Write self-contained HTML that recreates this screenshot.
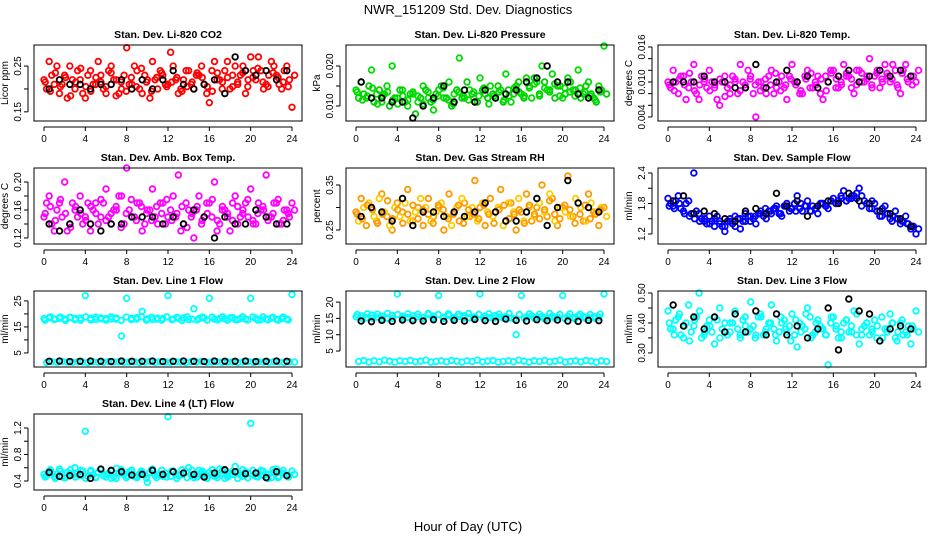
<!DOCTYPE html>
<html><head><meta charset="utf-8"><style>
body{margin:0;background:#fff;}
svg{display:block;font-family:"Liberation Sans",sans-serif;}
</style></head><body>
<svg id="chart" width="936" height="540" viewBox="0 0 936 540">
<text x="468" y="14" text-anchor="middle" font-size="13">NWR_151209  Std. Dev. Diagnostics</text>
<text x="468" y="531" text-anchor="middle" font-size="13">Hour of Day (UTC)</text>
</svg>
<script>
const xTicks = [0,4,8,12,16,20,24];
const panelTitles = ["Stan. Dev. Li-820 CO2","Stan. Dev. Li-820 Pressure","Stan. Dev. Li-820 Temp.","Stan. Dev. Amb. Box Temp.","Stan. Dev. Gas Stream RH","Stan. Dev. Sample Flow","Stan. Dev. Line 1 Flow","Stan. Dev. Line 2 Flow","Stan. Dev. Line 3 Flow","Stan. Dev. Line 4 (LT) Flow"];
const yUnits = ["Licor ppm","kPa","degrees C","degrees C","percent","ml/min","ml/min","ml/min","ml/min","ml/min"];
const yRanges = [[0.130,0.296],[0.00625,0.02525],[0.00331,0.01634],[0.1114,0.22],[0.2189,0.3878],[1.003,2.498],[-0.4,28.8],[0.1,23.4],[0.253,0.5067],[0.264,1.411]];
const yTicks = [[0.15,0.20,0.25],[0.010,0.015,0.020],[0.004,0.006,0.008,0.010,0.012,0.014,0.016],[0.12,0.14,0.16,0.18,0.20],[0.25,0.30,0.35],[1.2,1.5,1.8,2.1,2.4],[5,10,15,20,25],[5,10,15,20],[0.30,0.35,0.40,0.45,0.50],[0.4,0.6,0.8,1.0,1.2]];
const yTickLabels = [["0.15","","0.25"],["0.010","","0.020"],["0.004","","","0.010","","","0.016"],["0.12","","0.16","","0.20"],["0.25","","0.35"],["1.2","","1.8","","2.4"],["5","","15","","25"],["5","10","15","20"],["0.30","","0.40","","0.50"],["0.4","","0.8","","1.2"]];
const colors = ["#ff0000","#00dd00","#ff00ff","#ff00ff","#ff9900","#0000ff","#00ffff","#00ffff","#00ffff","#00ffff"];
const colors2 = ["#ff0000","#00cc00","#ff00ff","#ff00ff","#ffcc00","#0000ee","#00ffff","#00ffff","#00ffff","#00ffff"];

const seriesA = [
[0.22,0.26,0.21,0.19,0.23,0.25,0.20,0.22,0.18,0.24,0.21,0.23,0.19,0.25,0.22,0.20,0.29,0.21,0.24,0.19,0.22,0.26,0.20,0.23,0.21,0.25,0.19,0.22,0.24,0.20,0.23,0.21,0.17,0.26,0.22,0.24,0.20,0.25,0.23,0.19,0.27,0.22,0.24,0.21,0.26,0.23,0.20,0.25,0.16],
[0.014,0.016,0.012,0.019,0.013,0.011,0.015,0.020,0.012,0.014,0.010,0.013,0.011,0.015,0.012,0.009,0.014,0.012,0.016,0.013,0.022,0.012,0.014,0.011,0.017,0.013,0.015,0.012,0.014,0.018,0.011,0.015,0.013,0.017,0.012,0.016,0.020,0.014,0.018,0.015,0.012,0.017,0.014,0.019,0.013,0.016,0.012,0.015,0.025],
[0.010,0.012,0.008,0.011,0.009,0.013,0.007,0.010,0.012,0.009,0.006,0.011,0.008,0.010,0.013,0.009,0.011,0.004,0.010,0.008,0.012,0.009,0.011,0.007,0.013,0.010,0.008,0.012,0.009,0.011,0.007,0.010,0.012,0.009,0.013,0.011,0.008,0.012,0.010,0.014,0.011,0.009,0.013,0.010,0.012,0.008,0.013,0.011,0.010],
[0.15,0.18,0.13,0.17,0.20,0.14,0.16,0.18,0.15,0.13,0.17,0.15,0.19,0.14,0.16,0.18,0.22,0.15,0.17,0.13,0.16,0.19,0.14,0.17,0.15,0.18,0.21,0.14,0.16,0.12,0.18,0.15,0.17,0.20,0.14,0.16,0.13,0.18,0.15,0.17,0.19,0.14,0.16,0.21,0.15,0.17,0.14,0.16,0.17],
[0.29,0.32,0.26,0.30,0.27,0.33,0.28,0.25,0.31,0.29,0.34,0.27,0.30,0.26,0.32,0.28,0.30,0.25,0.33,0.29,0.27,0.31,0.28,0.36,0.30,0.26,0.32,0.29,0.34,0.27,0.31,0.25,0.29,0.33,0.27,0.30,0.35,0.28,0.32,0.26,0.30,0.37,0.28,0.31,0.27,0.33,0.29,0.26,0.30],
[1.90,1.75,1.95,1.65,1.85,2.40,1.60,1.45,1.55,1.35,1.40,1.25,1.50,1.35,1.30,1.45,1.55,1.40,1.65,1.50,1.60,1.75,1.55,1.80,1.70,1.95,1.65,1.85,1.75,1.60,1.80,1.70,1.90,1.85,2.05,1.90,1.95,2.10,1.85,1.70,1.80,1.55,1.75,1.50,1.65,1.40,1.55,1.30,1.20],
[18.2,18.5,17.9,18.3,18.0,18.6,17.8,18.4,27.0,18.3,17.9,18.5,18.2,18.0,18.4,11.5,26.0,18.3,18.6,21.0,18.1,17.9,18.4,18.2,27.0,18.0,18.3,18.5,17.8,22.0,18.2,18.4,26.0,18.0,18.3,18.1,18.5,17.9,18.2,18.0,26.0,18.3,17.8,18.1,18.4,17.9,18.2,18.0,27.5],
[15.5,15.8,15.2,16.0,15.4,15.7,15.1,15.9,22.5,15.6,15.3,15.8,15.5,15.2,16.2,15.7,22.0,15.4,15.9,15.3,15.6,15.8,15.2,15.5,22.5,15.7,15.3,15.9,15.4,15.6,15.1,10.0,22.0,15.5,15.8,15.3,15.6,15.2,15.7,15.4,22.0,15.6,15.3,15.8,15.5,15.2,15.6,15.4,22.5],
[0.44,0.38,0.42,0.35,0.46,0.39,0.50,0.36,0.41,0.33,0.45,0.37,0.40,0.43,0.35,0.39,0.47,0.36,0.42,0.38,0.46,0.34,0.40,0.37,0.43,0.32,0.39,0.45,0.36,0.41,0.38,0.26,0.42,0.35,0.40,0.37,0.44,0.33,0.39,0.36,0.41,0.34,0.38,0.43,0.35,0.40,0.37,0.33,0.44],
[0.50,0.55,0.47,0.58,0.45,0.52,0.60,0.48,1.15,0.54,0.46,0.57,0.50,0.44,0.59,0.52,0.48,0.56,0.45,0.53,0.38,0.58,0.50,0.47,1.37,0.55,0.48,0.52,0.60,0.45,0.56,0.50,0.53,0.47,0.58,0.44,0.51,0.62,0.49,0.54,1.27,0.47,0.56,0.50,0.45,0.58,0.52,0.48,0.55]
];
const seriesB = [
[0.20,0.23,0.25,0.21,0.18,0.22,0.24,0.19,0.23,0.21,0.26,0.20,0.24,0.22,0.19,0.23,0.21,0.25,0.20,0.23,0.18,0.22,0.24,0.21,0.28,0.22,0.20,0.24,0.21,0.23,0.25,0.19,0.24,0.22,0.20,0.26,0.23,0.21,0.25,0.22,0.24,0.27,0.20,0.23,0.25,0.21,0.24,0.22,0.23],
[0.012,0.013,0.015,0.011,0.014,0.013,0.010,0.012,0.014,0.011,0.013,0.008,0.012,0.014,0.011,0.013,0.015,0.012,0.010,0.014,0.012,0.016,0.013,0.011,0.014,0.012,0.013,0.015,0.011,0.014,0.013,0.016,0.012,0.015,0.017,0.013,0.016,0.014,0.012,0.015,0.013,0.016,0.014,0.012,0.015,0.013,0.011,0.014,0.013],
[0.009,0.010,0.011,0.007,0.010,0.008,0.011,0.009,0.010,0.007,0.010,0.009,0.011,0.008,0.010,0.012,0.008,0.010,0.009,0.011,0.008,0.010,0.009,0.011,0.010,0.008,0.011,0.009,0.010,0.008,0.011,0.012,0.009,0.010,0.011,0.009,0.012,0.010,0.011,0.009,0.012,0.010,0.011,0.013,0.009,0.012,0.010,0.011,0.012],
[0.17,0.14,0.16,0.15,0.13,0.17,0.15,0.14,0.17,0.16,0.14,0.17,0.15,0.16,0.18,0.14,0.16,0.15,0.17,0.14,0.16,0.15,0.17,0.14,0.16,0.15,0.13,0.17,0.15,0.16,0.14,0.17,0.15,0.13,0.16,0.15,0.17,0.14,0.16,0.15,0.14,0.17,0.16,0.15,0.17,0.14,0.16,0.15,0.16],
[0.27,0.30,0.31,0.28,0.32,0.29,0.26,0.30,0.28,0.31,0.27,0.29,0.32,0.30,0.27,0.29,0.31,0.28,0.26,0.30,0.32,0.28,0.30,0.27,0.31,0.29,0.28,0.30,0.26,0.31,0.29,0.32,0.27,0.30,0.28,0.31,0.29,0.33,0.27,0.30,0.29,0.28,0.32,0.30,0.27,0.31,0.29,0.30,0.28],
[1.80,1.85,1.70,1.80,1.60,1.65,1.50,1.40,1.45,1.55,1.35,1.45,1.40,1.50,1.45,1.55,1.50,1.60,1.55,1.65,1.70,1.60,1.75,1.65,1.80,1.70,1.75,1.65,1.70,1.80,1.75,1.85,1.80,1.95,1.85,1.90,2.00,1.95,1.80,1.85,1.65,1.70,1.60,1.55,1.50,1.45,1.40,1.35,1.30],
[1.3,1.6,1.4,1.7,1.5,1.4,1.6,1.5,1.3,1.6,1.5,1.4,1.7,1.5,1.6,1.4,1.5,1.6,1.3,1.5,1.7,1.4,1.6,1.5,1.4,1.6,1.5,1.3,1.6,1.5,1.7,1.4,1.5,1.6,1.4,1.5,1.6,1.3,1.5,1.7,1.4,1.6,1.5,1.4,1.6,1.5,1.3,1.6,1.5],
[1.8,2.1,1.6,2.0,1.7,2.2,1.9,1.6,2.0,1.8,2.1,1.7,1.9,2.2,1.6,1.8,2.0,1.7,2.1,1.9,1.6,2.0,1.8,2.2,1.7,1.9,2.1,1.6,1.8,2.0,1.7,2.2,1.9,1.6,2.0,1.8,2.1,1.7,1.9,2.2,1.6,1.8,2.0,1.7,2.1,1.9,1.6,2.0,1.8],
[0.38,0.41,0.36,0.40,0.37,0.42,0.35,0.39,0.37,0.41,0.38,0.36,0.40,0.38,0.41,0.37,0.39,0.42,0.36,0.40,0.38,0.37,0.41,0.39,0.36,0.40,0.38,0.42,0.37,0.39,0.36,0.40,0.38,0.37,0.41,0.39,0.36,0.38,0.40,0.37,0.39,0.35,0.38,0.40,0.37,0.36,0.39,0.38,0.37],
[0.48,0.52,0.50,0.46,0.53,0.49,0.51,0.55,0.47,0.50,0.53,0.48,0.51,0.46,0.52,0.50,0.54,0.47,0.51,0.49,0.53,0.48,0.50,0.52,0.47,0.51,0.49,0.54,0.48,0.50,0.53,0.47,0.51,0.49,0.52,0.48,0.50,0.54,0.47,0.51,0.49,0.52,0.48,0.50,0.53,0.47,0.51,0.49,0.50]
];
const seriesC = [
[0.215,0.195,0.235,0.205,0.225,0.185,0.215,0.245,0.205,0.195,0.225,0.215,0.205,0.235,0.185,0.215,0.195,0.225,0.205,0.245,0.215,0.195,0.225,0.235,0.205,0.215,0.225,0.195,0.205,0.215,0.235,0.225,0.205,0.195,0.235,0.215,0.225,0.205,0.215,0.235,0.205,0.225,0.245,0.215,0.205,0.235,0.225,0.215,0.205],
[0.0135,0.0115,0.0125,0.0145,0.0105,0.0125,0.0135,0.0115,0.0105,0.0125,0.0115,0.0135,0.0125,0.0105,0.0135,0.0115,0.0125,0.0145,0.0115,0.0105,0.0135,0.0125,0.0115,0.0135,0.0125,0.0145,0.0105,0.0125,0.0135,0.0115,0.0125,0.0145,0.0135,0.0125,0.0145,0.0155,0.0125,0.0145,0.0135,0.0155,0.0125,0.0145,0.0135,0.0125,0.0145,0.0135,0.0125,0.0115,0.0135],
[0.0095,0.0085,0.0105,0.0095,0.0115,0.0085,0.0095,0.0105,0.0085,0.0095,0.0105,0.0075,0.0095,0.0105,0.0085,0.0095,0.0105,0.0095,0.0085,0.0105,0.0095,0.0115,0.0085,0.0095,0.0105,0.0095,0.0085,0.0105,0.0115,0.0095,0.0105,0.0085,0.0115,0.0105,0.0095,0.0115,0.0105,0.0095,0.0115,0.0105,0.0095,0.0115,0.0105,0.0115,0.0105,0.0095,0.0115,0.0105,0.0095],
[0.155,0.165,0.145,0.175,0.155,0.135,0.165,0.155,0.145,0.165,0.155,0.175,0.145,0.155,0.165,0.135,0.155,0.175,0.145,0.165,0.155,0.145,0.165,0.155,0.175,0.145,0.155,0.165,0.135,0.155,0.165,0.145,0.155,0.175,0.145,0.165,0.155,0.145,0.165,0.155,0.175,0.145,0.155,0.165,0.145,0.155,0.175,0.145,0.155],
[0.285,0.275,0.305,0.295,0.265,0.285,0.315,0.275,0.295,0.265,0.285,0.305,0.275,0.295,0.285,0.265,0.305,0.295,0.275,0.285,0.305,0.265,0.295,0.285,0.275,0.305,0.285,0.265,0.295,0.305,0.275,0.285,0.295,0.265,0.305,0.285,0.275,0.295,0.315,0.285,0.275,0.305,0.295,0.265,0.285,0.305,0.275,0.285,0.295],
[1.75,1.70,1.80,1.60,1.55,1.50,1.45,1.50,1.40,1.50,1.45,1.35,1.45,1.55,1.50,1.60,1.45,1.55,1.60,1.70,1.65,1.70,1.60,1.75,1.70,1.65,1.80,1.75,1.65,1.70,1.80,1.75,1.85,1.80,1.90,1.85,1.95,1.90,1.75,1.80,1.70,1.65,1.55,1.60,1.45,1.50,1.45,1.40,1.35],
[17.6,18.9,18.0,18.8,17.5,18.7,18.2,17.6,18.9,17.7,18.8,18.1,17.6,18.9,18.0,17.5,18.8,17.8,18.0,18.9,17.6,18.7,18.0,17.6,18.9,17.8,18.7,17.5,18.9,18.0,17.7,18.8,17.6,18.8,17.7,18.9,17.6,18.6,17.8,18.9,17.7,18.8,17.6,18.9,17.7,18.7,17.6,18.8,17.7],
[16.2,15.0,16.4,15.1,16.3,14.9,16.5,15.0,16.2,15.1,16.4,14.9,16.3,15.0,16.5,15.1,16.2,15.0,16.4,14.9,16.3,15.1,16.5,15.0,16.2,14.9,16.4,15.1,16.3,15.0,16.5,14.9,16.2,15.1,16.4,15.0,16.3,14.9,16.5,15.1,16.2,15.0,16.4,14.9,16.3,15.1,16.2,15.0,16.3],
[0.40,0.36,0.43,0.39,0.34,0.41,0.44,0.37,0.39,0.42,0.35,0.40,0.37,0.44,0.36,0.42,0.38,0.35,0.43,0.37,0.40,0.36,0.42,0.38,0.34,0.41,0.37,0.43,0.35,0.40,0.38,0.36,0.42,0.39,0.35,0.41,0.37,0.43,0.36,0.40,0.38,0.35,0.42,0.37,0.40,0.34,0.41,0.36,0.39],
[0.46,0.57,0.44,0.55,0.45,0.57,0.46,0.56,0.44,0.56,0.45,0.57,0.46,0.55,0.44,0.57,0.45,0.56,0.46,0.55,0.44,0.57,0.45,0.56,0.46,0.55,0.44,0.57,0.45,0.56,0.46,0.55,0.44,0.57,0.45,0.56,0.46,0.55,0.44,0.57,0.45,0.56,0.46,0.55,0.44,0.57,0.45,0.56,0.46]
];
const seriesBlack = [
[0.20,0.22,0.21,0.21,0.20,0.21,0.21,0.22,0.20,0.22,0.20,0.22,0.24,0.21,0.20,0.21,0.22,0.19,0.27,0.24,0.23,0.24,0.22,0.24],
[0.016,0.012,0.012,0.011,0.011,0.007,0.010,0.012,0.015,0.011,0.014,0.011,0.014,0.012,0.013,0.014,0.016,0.017,0.020,0.016,0.016,0.013,0.012,0.014],
[0.010,0.010,0.010,0.011,0.010,0.010,0.009,0.009,0.013,0.009,0.010,0.012,0.010,0.011,0.009,0.010,0.011,0.012,0.010,0.011,0.012,0.011,0.012,0.011],
[0.14,0.13,0.14,0.16,0.14,0.13,0.14,0.14,0.15,0.15,0.15,0.14,0.15,0.14,0.16,0.15,0.12,0.15,0.14,0.14,0.16,0.15,0.14,0.14],
[0.28,0.30,0.29,0.27,0.32,0.26,0.29,0.29,0.28,0.29,0.28,0.29,0.31,0.29,0.27,0.27,0.29,0.32,0.26,0.30,0.36,0.31,0.30,0.29],
[1.85,1.95,1.60,1.65,1.60,1.50,1.45,1.65,1.70,1.60,2.00,1.75,1.85,1.55,1.75,1.85,1.80,2.00,1.85,1.80,1.65,1.60,1.50,1.35],
[1.8,1.9,1.7,1.8,1.9,1.8,1.7,1.9,1.8,1.8,1.9,1.7,1.8,1.9,1.8,1.7,1.9,1.8,1.8,1.9,1.7,1.8,1.9,1.8],
[14.2,14.0,14.4,14.1,14.5,14.3,14.2,14.6,14.1,14.4,14.2,14.7,14.3,14.1,14.8,14.4,14.2,14.6,14.3,14.5,14.2,14.1,14.4,14.3],
[0.46,0.39,0.42,0.38,0.42,0.37,0.43,0.37,0.44,0.36,0.43,0.36,0.39,0.35,0.38,0.45,0.31,0.48,0.44,0.43,0.34,0.38,0.39,0.38],
[0.53,0.47,0.48,0.50,0.44,0.58,0.56,0.54,0.49,0.50,0.56,0.50,0.54,0.52,0.50,0.46,0.52,0.57,0.54,0.51,0.52,0.45,0.54,0.48]
];

const NS = "http://www.w3.org/2000/svg";
const svg = document.getElementById('chart');
function mk(tag, attrs, parent){ const e=document.createElementNS(NS,tag); for(const k in attrs) e.setAttribute(k,attrs[k]); (parent||svg).appendChild(e); return e; }

for (let p=0;p<10;p++){
  const r=Math.floor(p/3), c=p%3;
  const L=34+312*c, T=45+123*r, W=268, H=76;
  const g=mk('g',{});
  
  
  const xs = v => L+10+v*(248/24);
  const [y0,y1]=yRanges[p];
  const ys = v => T+H-(v-y0)/(y1-y0)*H;
  const t=mk('text',{x:L+W/2,y:T-7,'text-anchor':'middle','font-size':'10.5','font-weight':'bold'},g);
  t.textContent=panelTitles[p];
  
  
  const pts=mk('g',{fill:'none','stroke-width':'1.8'},g);
  
  
  seriesA[p].forEach((v,i)=>{ const ci=mk('circle',{cx:xs(i*0.5),cy:ys(v),r:2.8,stroke:colors[p]},pts);
    
     });
  seriesB[p].forEach((v,i)=>{ const ci=mk('circle',{cx:xs(0.25+i*0.5),cy:ys(v),r:2.8,stroke:colors2[p]},pts);
    
     });
  seriesC[p].forEach((v,i)=>{ const ci=mk('circle',{cx:xs(0.12+i*0.49),cy:ys(v),r:2.8,stroke:colors[p]},pts);
    
     });
  seriesBlack[p].forEach((v,i)=>{ const ci=mk('circle',{cx:xs(0.5+i),cy:ys(v),r:2.8,stroke:'#000'},pts);
    
     });
  const box=mk('rect',{x:L,y:T,width:W,height:H,fill:'none',stroke:'#000','stroke-width':'1'},g);
  
  
  const xa=mk('g',{stroke:'#000','stroke-width':'1'},g);
  
  
  mk('line',{x1:xs(xTicks[0]),x2:xs(xTicks[xTicks.length-1]),y1:T+H+6,y2:T+H+6},xa);
  xTicks.forEach(v=>{ mk('line',{x1:xs(v),x2:xs(v),y1:T+H+6,y2:T+H+10},xa);
    const tl=mk('text',{x:xs(v),y:T+H+21,'text-anchor':'middle','font-size':'10',stroke:'none'},xa);
    tl.textContent=v;
    
     });
  const ya=mk('g',{stroke:'#000','stroke-width':'1'},g);
  
  
  const yt=yTicks[p];
  mk('line',{x1:L-6,x2:L-6,y1:ys(yt[0]),y2:ys(yt[yt.length-1])},ya);
  yt.forEach((v,i)=>{ mk('line',{x1:L-10,x2:L-6,y1:ys(v),y2:ys(v)},ya);
    if(yTickLabels[p][i]){ const X=L-13, Y=ys(v);
      const tl=mk('text',{x:X,y:Y,transform:`rotate(-90 ${X} ${Y})`,'text-anchor':'middle','font-size':'10',stroke:'none'},ya);
      tl.textContent=yTickLabels[p][i];
      
       } });
  const X=L-26, Y=T+H/2;
  const yl=mk('text',{x:X,y:Y,transform:`rotate(-90 ${X} ${Y})`,'text-anchor':'middle','font-size':'10'},g);
  yl.textContent=yUnits[p];
  
  
}
</script>
</body></html>
